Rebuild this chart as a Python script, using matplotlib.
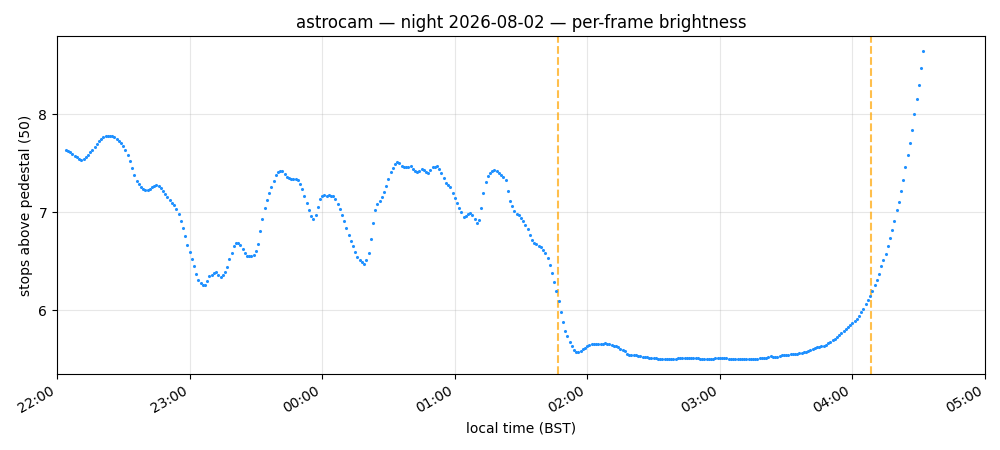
import numpy as np
import pandas as pd
import matplotlib
matplotlib.use("Agg")
import matplotlib.pyplot as plt
import matplotlib.dates as mdates

# one frame per minute, 22:04 -> 04:32
start = "2026-08-02 22:04"
n_frames = 389

stops = [
    # 22:04 - 22:13
    7.63, 7.62, 7.61, 7.59, 7.57, 7.56, 7.54, 7.53, 7.54, 7.56,
    7.58, 7.61, 7.64, 7.67, 7.70, 7.73, 7.75, 7.77, 7.78, 7.78,
    7.78, 7.78, 7.77, 7.75, 7.73, 7.71, 7.68, 7.64, 7.58, 7.52,
    7.45, 7.38, 7.32, 7.29, 7.26, 7.24, 7.23, 7.23, 7.24, 7.26,
    7.27, 7.28, 7.27, 7.25, 7.22, 7.19, 7.16, 7.13, 7.10, 7.07,
    7.03, 6.98, 6.91, 6.84, 6.76, 6.67, 6.60, 6.52, 6.45, 6.37,
    6.31, 6.28, 6.26,
    # 23:07
    6.26, 6.30, 6.35, 6.36, 6.38, 6.39, 6.36, 6.34, 6.36, 6.39,
    6.44, 6.52, 6.59, 6.66, 6.69, 6.69, 6.67, 6.63, 6.59, 6.56,
    6.56, 6.56, 6.57, 6.61, 6.68, 6.81, 6.93, 7.04, 7.13, 7.20,
    7.26, 7.32, 7.38, 7.41, 7.42, 7.42, 7.39, 7.36, 7.35, 7.34,
    7.34, 7.34, 7.33, 7.29, 7.24, 7.17, 7.10, 7.02, 6.96, 6.93,
    6.97, 7.05, 7.14, 7.17, 7.18, 7.17, 7.18, 7.17, 7.17, 7.14,
    7.09, 7.03, 6.97, 6.91, 6.84, 6.77, 6.71, 6.66,
    # 00:15
    6.60, 6.55, 6.51, 6.49, 6.47, 6.51, 6.59, 6.73, 6.89, 7.02,
    7.08, 7.12, 7.16, 7.21, 7.27, 7.34, 7.41, 7.45, 7.49, 7.51,
    7.50, 7.47, 7.46, 7.46, 7.46, 7.47, 7.44, 7.42, 7.41, 7.42,
    7.44, 7.43, 7.41, 7.40, 7.43, 7.46, 7.46, 7.47, 7.44, 7.40,
    7.35, 7.30, 7.28, 7.26, 7.20, 7.15, 7.10, 7.04, 7.00, 6.95,
    6.96, 6.98, 6.99, 6.97, 6.93, 6.89, 6.92, 7.04, 7.20, 7.31,
    7.37, 7.40, 7.42, 7.43, 7.42, 7.40,
    # 01:21
    7.38, 7.36, 7.33, 7.22, 7.12, 7.06, 7.01, 6.98, 6.97, 6.94,
    6.91, 6.87, 6.83, 6.77, 6.72, 6.69, 6.68, 6.66, 6.65, 6.62,
    6.59, 6.53, 6.46, 6.38, 6.29, 6.20, 6.10, 5.98, 5.88, 5.79,
    5.74, 5.68, 5.64, 5.60, 5.58, 5.58, 5.59, 5.61, 5.62, 5.64,
    5.65, 5.66, 5.66, 5.66, 5.66, 5.66, 5.66, 5.67, 5.66, 5.66,
    5.65, 5.64, 5.64, 5.63, 5.61, 5.60, 5.59, 5.56, 5.55, 5.55,
    5.55, 5.55, 5.54, 5.54, 5.53, 5.53, 5.53, 5.52, 5.52, 5.52,
    5.52, 5.51, 5.51, 5.51, 5.51, 5.51, 5.51, 5.51, 5.51, 5.51,
    # 02:41
    5.52, 5.52, 5.52, 5.52, 5.52, 5.52, 5.52, 5.52, 5.52, 5.52,
    5.51, 5.51, 5.51, 5.51, 5.51, 5.51, 5.51, 5.52, 5.52, 5.52,
    5.52, 5.52, 5.52, 5.51, 5.51, 5.51, 5.51, 5.51, 5.51, 5.51,
    5.51, 5.51, 5.51, 5.51, 5.51, 5.51, 5.51, 5.52, 5.52, 5.52,
    5.52, 5.53, 5.54, 5.53, 5.53, 5.53, 5.54, 5.55, 5.55, 5.55,
    5.55, 5.56, 5.56, 5.56, 5.56, 5.57, 5.57, 5.58, 5.58, 5.59,
    5.60, 5.61, 5.62, 5.63, 5.63, 5.64, 5.64, 5.65, 5.67, 5.68,
    5.70, 5.71, 5.73, 5.75, 5.77, 5.79, 5.81, 5.83, 5.85, 5.87,
    # 04:01
    5.89, 5.91, 5.94, 5.98, 6.02, 6.07, 6.11, 6.15, 6.20, 6.26,
    6.31, 6.37, 6.45, 6.51, 6.58, 6.66, 6.74, 6.82, 6.91, 7.02,
    7.11, 7.22, 7.33, 7.46, 7.58, 7.71, 7.84, 8.00, 8.15, 8.30,
    8.47, 8.64,
]

# twilight markers
markers = ["2026-08-03 01:46:40", "2026-08-03 04:08:15"]

times = pd.date_range(start, periods=n_frames, freq="1min")
stops = np.array(stops)

fig, ax = plt.subplots(figsize=(10, 4.5), dpi=100)

ax.scatter(times, stops, s=1.5, color="#1e90ff", zorder=3)
for m in markers:
    ax.axvline(pd.Timestamp(m), color="orange", alpha=0.7, linestyle="--", linewidth=1.5)

ax.set_xlim(pd.Timestamp("2026-08-02 22:00"), pd.Timestamp("2026-08-03 05:00"))
ax.xaxis.set_major_locator(mdates.HourLocator())
ax.xaxis.set_major_formatter(mdates.DateFormatter("%H:%M"))
ax.yaxis.set_major_locator(plt.MultipleLocator(1))
ax.grid(True, alpha=0.3)
fig.autofmt_xdate()
fig.subplots_adjust(left=0.057, right=0.985, top=0.92, bottom=0.169)

ax.set_title("astrocam — night 2026-08-02 — per-frame brightness")
ax.set_xlabel("local time (BST)")
ax.set_ylabel("stops above pedestal (50)")

fig.savefig("out.png")
